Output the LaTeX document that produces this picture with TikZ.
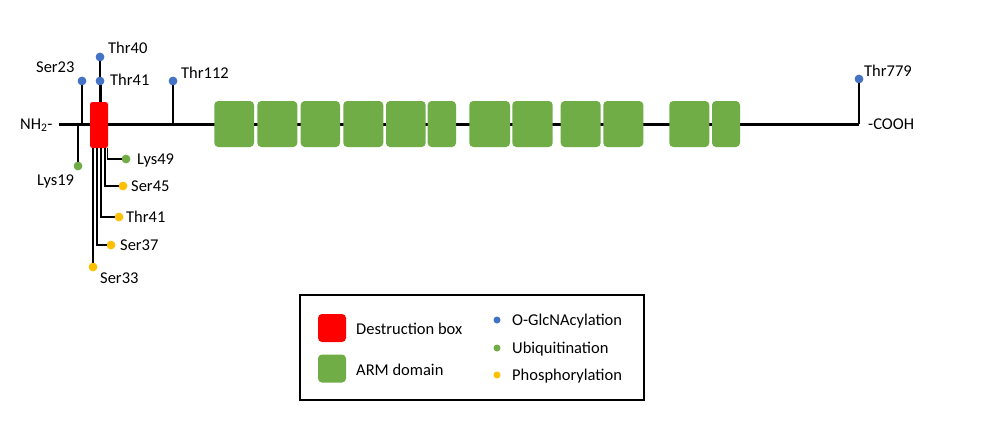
\documentclass[tikz,border=0pt]{standalone}
\usepackage{fontspec}
\setmainfont{Carlito}
\definecolor{oblue}{HTML}{4472C4}
\definecolor{ogreen}{HTML}{70AD47}
\definecolor{oyellow}{HTML}{FFC000}
\definecolor{ored}{HTML}{FF0000}
\begin{document}
\begin{tikzpicture}[x=1pt,y=-1pt,
  lab/.style={inner sep=0pt,anchor=base west,font=\fontsize{16.5}{18}\selectfont},
  dot/.style={circle,inner sep=0pt,minimum size=8.5pt,fill=#1,draw=none},
  armbox/.style={fill=ogreen,draw=none,rounded corners=4pt,inner sep=0pt,minimum height=46pt},
  stem/.style={line width=1.4pt},
  backbone/.style={line width=3pt}]
\useasboundingbox[fill=white] (0,0) rectangle (999,444);
% backbone
\coordinate (nh) at (59,124);
\coordinate (co) at (859,124);
\draw[backbone] (nh) -- (co);
% stems attach points on backbone
\coordinate (a23) at (82,124);
\coordinate (a19) at (78,124);
\coordinate (a112) at (173,124);
% red destruction box
\node[fill=ored,draw=none,rounded corners=2.5pt,inner sep=0pt,minimum width=18pt,minimum height=46pt] (dbox) at (99,125) {};
% ARM boxes
\foreach \i/\l/\r in {1/214.3/254,2/257.3/297.3,3/300.7/340,4/343.3/383.3,5/386/425.7,6/427.7/456,7/469.3/510,8/512.3/552.7,9/560.7/600.7,10/603.3/643.3,11/669.3/709.3,12/712/740}{
  \node[armbox,minimum width={\r pt-\l pt}] (arm\i) at ({(\l+\r)/2},124) {};
}
% O-GlcNAcylation
\node[dot=oblue] (s23) at (82,81) {};
\draw[stem] (a23) -- (s23);
\node[dot=oblue] (t112) at (173,81) {};
\draw[stem] (a112) -- (t112);
\node[dot=oblue] (t779) at (859,79) {};
\draw[stem] (co) -- (t779);
\node[dot=oblue] (t41b) at (100,81) {};
\node[dot=oblue] (t40) at (100,57) {};
\draw[stem] (t41b) -- (t40);
\draw[line width=3pt] (dbox.north -| t41b) -- (t41b);
% Ubiquitination
\node[dot=ogreen] (k19) at (78,166) {};
\draw[stem] (a19) -- (k19);
\node[dot=ogreen] (k49) at (126,159) {};
\draw[stem] (107.5,148) |- (k49);
% Phosphorylation
\node[dot=oyellow] (s45) at (123,186) {};
\draw[stem] (105,148) |- (s45);
\node[dot=oyellow] (t41y) at (119,217) {};
\draw[stem] (101,148) |- (t41y);
\node[dot=oyellow] (s37) at (111,245) {};
\draw[stem] (97,148) |- (s37);
\node[dot=oyellow] (s33) at (93,267) {};
\draw[stem] (93,148) -- (s33);
% redraw dots on top
\foreach \n/\c in {s23/oblue,t112/oblue,t779/oblue,t41b/oblue,t40/oblue,k19/ogreen,k49/ogreen,s45/oyellow,t41y/oyellow,s37/oyellow,s33/oyellow}{
  \fill[\c] (\n) circle (4.25pt);
}
% labels
\node[lab] (lnh) at (20,129.3) {NH\textsubscript{2}-};
\node[lab] (lcooh) at (868,129.3) {-COOH};
\node[lab] (l23) at (36,72.3) {Ser23};
\node[lab] (l40) at (108,53.3) {Thr40};
\node[lab] (l41b) at (110,85.3) {Thr41};
\node[lab] (l112) at (181,78.3) {Thr112};
\node[lab] (l779) at (864,76.3) {Thr779};
\node[lab] (l19) at (37,185.3) {Lys19};
\node[lab] (l49) at (137,164.3) {Lys49};
\node[lab] (l45) at (131,191.3) {Ser45};
\node[lab] (l41y) at (126,222.3) {Thr41};
\node[lab] (l37) at (120,250.3) {Ser37};
\node[lab] (l33) at (100,283.3) {Ser33};
% legend
\node[draw=black,line width=2pt,inner sep=0pt,minimum width=344pt,minimum height=105pt] (legend) at (472,347.5) {};
\node[fill=ored,rounded corners=4pt,inner sep=0pt,minimum size=28pt] (lgred) at (332,328) {};
\node[fill=ogreen,rounded corners=4pt,inner sep=0pt,minimum size=28pt] (lggreen) at (332,368.5) {};
\node[lab] (tdb) at (356,334.3) {Destruction box};
\node[lab] (tarm) at (356,375.3) {ARM domain};
\node[dot=oblue,minimum size=7pt] (lgb) at (497,320) {};
\node[dot=ogreen,minimum size=7pt] (lgg) at (497,348) {};
\node[dot=oyellow,minimum size=7pt] (lgy) at (497,375) {};
\node[lab] (tog) at (512,325.3) {O-GlcNAcylation};
\node[lab] (tub) at (512,353.3) {Ubiquitination};
\node[lab] (tph) at (512,380.3) {Phosphorylation};
\end{tikzpicture}
\end{document}
